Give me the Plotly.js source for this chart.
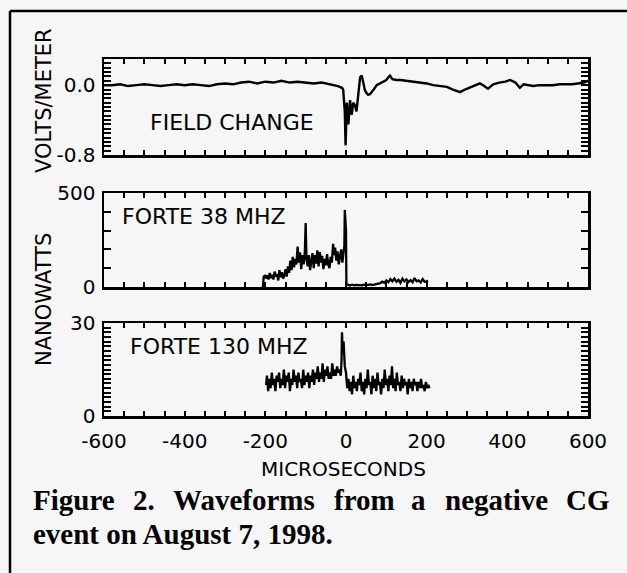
<!DOCTYPE html>
<html>
<head>
<meta charset="utf-8">
<script src="https://cdn.plot.ly/plotly-3.0.1.min.js"></script>
<style>html,body{margin:0;padding:0;background:#f6f6f6;}#chart{width:627px;height:573px;}</style>
</head>
<body>
<div id="chart"></div>
<script>
// ---- Data ----
// Panel 1: field change (volts/meter) vs microseconds
var fieldTime = [-600,-580,-560,-540,-520,-500,-480,-460,-440,-420,-400,-380,-360,-340,-320,-300,-280,-260,-240,-220,-200,-180,-160,-140,-120,-100,-80,-60,-40,-20,-10,-7,-3,-1,2,6,10,14,18,22,26,30,35,39,43,47,51,55,60,64,70,76,84,92,100,105,109,115,125,135,150,165,180,200,216,235,250,265,283,295,310,332,340,352,365,380,395,407,420,431,440,452,464,480,500,513,530,545,560,575,590,600];
var fieldValue = [0.00,0.00,0.01,-0.01,0.00,0.01,0.00,-0.01,0.00,0.01,0.00,0.01,0.00,-0.01,0.01,0.02,0.01,0.03,0.04,0.02,0.04,0.03,0.05,0.03,0.04,0.03,0.02,0.03,0.01,-0.01,-0.03,-0.05,-0.30,-0.69,-0.20,-0.45,-0.17,-0.34,-0.20,-0.23,-0.30,-0.10,0.09,0.11,0.02,-0.06,-0.09,-0.11,-0.10,-0.08,-0.04,0.00,0.02,0.04,0.06,0.09,0.11,0.07,0.06,0.06,0.05,0.04,0.03,0.02,0.00,-0.01,-0.02,-0.05,-0.08,-0.05,-0.02,0.02,0.00,-0.04,0.01,0.03,0.04,0.06,0.03,-0.03,0.01,0.00,-0.01,0.00,0.00,0.00,0.01,0.01,0.01,0.02,0.03,0.05];

// Panel 2: FORTE 38 MHz power (nanowatts)
var vhf38Time = [-206,-204,-201,-198,-195,-192,-189,-186,-183,-180,-177,-174,-171,-168,-165,-162,-159,-156,-153,-150,-147,-144,-141,-138,-135,-132,-129,-126,-123,-120,-117,-114,-111,-108,-105,-102,-100,-98,-95,-92,-89,-86,-83,-80,-77,-74,-71,-68,-65,-62,-59,-56,-53,-50,-47,-44,-41,-38,-35,-32,-30,-27,-24,-21,-18,-15,-12,-9,-6,-4,-3,-1,0,1,5,10,15,20,25,30,35,40,45,50,55,60,65,70,75,80,85,90,95,100,105,110,115,120,125,130,135,140,145,150,155,160,165,170,175,180,185,190,195,200,203];
var vhf38Power = [0,55,60,45,62,40,75,48,65,40,82,55,70,35,90,52,78,45,60,95,55,110,75,140,90,160,105,150,120,215,130,185,95,170,120,190,340,150,110,170,90,145,180,100,170,125,195,110,185,130,165,95,150,115,175,120,100,160,130,230,170,210,140,190,120,160,200,130,175,220,410,330,300,15,10,8,12,9,11,10,13,9,12,10,11,14,10,12,15,18,20,28,22,35,25,42,30,45,28,38,22,44,30,40,26,36,25,48,30,35,24,42,28,30,35];

// Panel 3: FORTE 130 MHz power (nanowatts)
var vhf130Time = [-198,-196,-193,-190,-187,-184,-181,-178,-175,-172,-169,-166,-163,-160,-157,-154,-151,-148,-145,-142,-139,-136,-133,-130,-127,-124,-121,-118,-115,-112,-109,-106,-103,-100,-97,-94,-91,-88,-85,-82,-79,-76,-73,-70,-67,-64,-61,-58,-55,-52,-49,-46,-43,-40,-37,-34,-31,-28,-25,-22,-19,-16,-13,-11,-10,-8,-6,-3,0,3,6,9,12,15,18,21,24,27,30,33,36,39,42,45,48,51,54,57,60,63,66,69,72,75,78,81,84,87,90,93,96,99,102,105,108,111,114,117,120,123,126,129,132,135,138,141,144,147,150,153,156,159,162,165,168,171,174,177,180,183,186,189,192,195,198,201,204,207];
var vhf130Power = [10,13,8,12,9,14,10,12,8,13,11,14,9,12,10,15,9,13,11,14,8,12,10,15,11,13,9,14,11,12,9,15,10,13,11,14,9,13,11,15,10,14,12,16,11,14,12,17,11,15,13,16,12,14,12,17,13,15,13,16,14,15,13,18,27,20,24,16,14,9,12,8,11,7,13,9,11,8,12,10,14,8,11,7,12,9,15,10,11,7,13,9,12,8,14,10,11,7,12,9,15,10,12,8,13,10,16,9,12,8,14,10,11,8,13,9,12,10,11,7,12,9,11,8,12,10,11,8,11,9,12,9,10,8,11,9,10,9];

// Tick labels (value -> label); unlabelled tick marks get an empty label
var xLabels = {'-600': '-600', '-400': '-400', '-200': '-200', '0': '0', '200': '200', '400': '400', '600': '600'};
var y1Labels = {'-0.8': '-0.8', '0': '0.0'};
var y2Labels = {'0': '0', '500': '500'};
var y3Labels = {'0': '0', '30': '30'};

// ---- helpers ----
var W = 627, H = 573;
function px(x){ return x / W; }
function py(y){ return 1 - y / H; }
function tickSet(lo, hi, step, labels, show){
  var vals = [], text = [];
  var n = Math.round((hi - lo) / step);
  for (var i = 0; i <= n; i++){
    var v = +(lo + i * step).toFixed(4);
    vals.push(v);
    var key = String(v);
    text.push(show && labels[key] !== undefined ? labels[key] : '');
  }
  return {vals: vals, text: text};
}

var sans = 'DejaVu Sans, Arial, sans-serif';
var serif = 'Liberation Serif, Times New Roman, serif';
var black = '#000';

function xAxis(domain, showLabels, anchor){
  var t = tickSet(-600, 600, 50, xLabels, showLabels);
  return {
    domain: domain, range: [-600, 600], anchor: anchor, showgrid: false, zeroline: false,
    showline: true, linecolor: black, linewidth: 2.5, mirror: 'allticks',
    ticks: 'inside', ticklen: 5, tickwidth: 2, tickcolor: black,
    tickmode: 'array', tickvals: t.vals, ticktext: t.text, showticklabels: showLabels,
    ticklabelstandoff: 5,
    tickfont: {family: sans, size: 20, color: black}, fixedrange: true
  };
}
function yAxis(domain, range, step, labels, anchor){
  var t = tickSet(range[0], range[1], step, labels, true);
  return {
    domain: domain, range: range, anchor: anchor, showgrid: false, zeroline: false,
    showline: true, linecolor: black, linewidth: 2.5, mirror: 'allticks',
    ticks: 'inside', ticklen: 7, tickwidth: 2, tickcolor: black,
    tickmode: 'array', tickvals: t.vals, ticktext: t.text, ticklabelstandoff: 2,
    tickfont: {family: sans, size: 20, color: black}, fixedrange: true
  };
}

var xd = [px(104), px(588)];
var traces = [
  {x: fieldTime, y: fieldValue, xaxis: 'x', yaxis: 'y', type: 'scatter', mode: 'lines',
   line: {color: black, width: 2.4}, hoverinfo: 'skip'},
  {x: vhf38Time, y: vhf38Power, xaxis: 'x2', yaxis: 'y2', type: 'scatter', mode: 'lines',
   line: {color: black, width: 2.3}, hoverinfo: 'skip'},
  {x: vhf130Time, y: vhf130Power, xaxis: 'x3', yaxis: 'y3', type: 'scatter', mode: 'lines',
   line: {color: black, width: 2.3}, hoverinfo: 'skip'}
];

var ann = [];
function addText(text, x, y, opts){
  var a = {text: text, x: px(x), y: py(y), xref: 'paper', yref: 'paper', showarrow: false,
           xanchor: 'left', yanchor: 'middle', font: {family: sans, size: 21, color: black}};
  for (var k in opts){ a[k] = opts[k]; }
  ann.push(a);
}
addText('VOLTS/METER', 44, 101, {xanchor: 'center', textangle: -90, font: {family: sans, size: 21, color: black}});
addText('NANOWATTS', 44, 300, {xanchor: 'center', textangle: -90, font: {family: sans, size: 21, color: black}});
addText('FIELD CHANGE', 148, 123, {font: {family: sans, size: 22, color: black}});
addText('FORTE 38 MHZ', 120, 217, {font: {family: sans, size: 22, color: black}});
addText('FORTE 130 MHZ', 128, 346, {font: {family: sans, size: 22, color: black}});
addText('MICROSECONDS', 343, 469, {xanchor: 'center', font: {family: sans, size: 20, color: black}});

var capFont = {family: serif, size: 29, color: black, weight: 'bold'};
var line1 = [['Figure', 31], ['2.', 131], ['Waveforms', 171], ['from', 332], ['a', 409], ['negative', 443], ['CG', 564]];
line1.forEach(function(w){ addText('<b>' + w[0] + '</b>', w[1], 500, {font: capFont}); });
addText('<b>event on August 7, 1998.</b>', 31, 534, {font: capFont});

var layout = {
  width: W, height: H, margin: {l: 0, r: 0, t: 0, b: 0},
  paper_bgcolor: '#f6f6f6', plot_bgcolor: '#f6f6f6', showlegend: false,
  xaxis: xAxis(xd, false, 'y'),
  xaxis2: xAxis(xd, false, 'y2'),
  xaxis3: xAxis(xd, true, 'y3'),
  yaxis: yAxis([py(155), py(59)], [-0.8, 0.3], 0.05, y1Labels, 'x'),
  yaxis2: yAxis([py(287), py(193)], [0, 500], 100, y2Labels, 'x2'),
  yaxis3: yAxis([py(416), py(323)], [0, 30], 1.5, y3Labels, 'x3'),
  annotations: ann,
  shapes: [
    {type: 'line', xref: 'paper', yref: 'paper', x0: px(10), x1: px(10), y0: 0, y1: py(11), line: {color: black, width: 2.5}},
    {type: 'line', xref: 'paper', yref: 'paper', x0: px(10), x1: 1, y0: py(11), y1: py(11), line: {color: black, width: 2.5}}
  ]
};

Plotly.newPlot('chart', traces, layout, {staticPlot: true, displayModeBar: false});
</script>
</body>
</html>
